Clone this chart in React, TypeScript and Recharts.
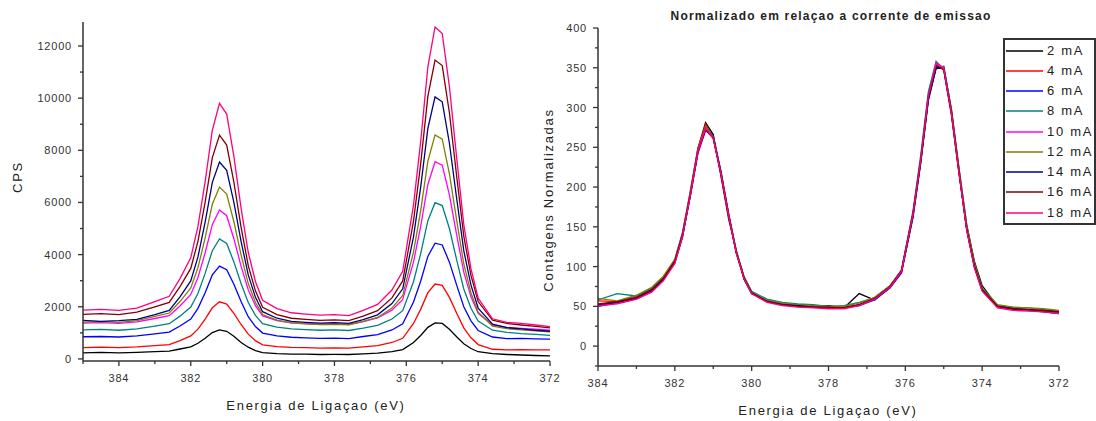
import { Customized, Legend, Line, LineChart, XAxis, YAxis } from 'recharts';

// binding energy grid (eV)
const energy = [
  385.0, 384.5, 384.0, 383.5, 383.0, 382.6, 382.3, 382.0, 381.8, 381.6, 381.4, 381.2, 381.0, 380.8,
  380.6, 380.4, 380.2, 380.0, 379.6, 379.2, 378.8, 378.4, 378.0, 377.6, 377.2, 376.8, 376.4, 376.1,
  375.8, 375.6, 375.4, 375.2, 375.0, 374.8, 374.6, 374.4, 374.2, 374.0, 373.6, 373.2, 372.8, 372.4, 372.0
];
// the normalized panel starts at 384 eV
const energyNorm = energy.slice(2);

const currents = ['2 mA', '4 mA', '6 mA', '8 mA', '10 mA', '12 mA', '14 mA', '16 mA', '18 mA'];
const colors = ['#000000', '#ff0000', '#0000ff', '#008080', '#ff00ff', '#808000', '#000080', '#800000', '#ff0080'];

// CPS (left panel)
const cps2 = [230, 250, 230, 250, 280, 300, 380, 460, 600, 790, 1010, 1110, 1060, 870, 630, 450, 320, 240, 200, 185, 180, 170, 175, 170, 195, 220, 280, 355, 630, 900, 1210, 1380, 1360, 1140, 850, 580, 400, 275, 200, 170, 150, 130, 120];
const cps4 = [430, 450, 430, 460, 510, 550, 700, 880, 1140, 1530, 1960, 2190, 2100, 1750, 1320, 950, 700, 540, 470, 440, 430, 410, 420, 410, 460, 510, 630, 790, 1360, 1900, 2540, 2870, 2820, 2360, 1760, 1190, 810, 550, 370, 350, 355, 345, 345];
const cps6 = [850, 860, 840, 880, 960, 1030, 1260, 1530, 1940, 2540, 3220, 3560, 3420, 2860, 2200, 1620, 1240, 990, 880, 830, 810, 790, 800, 780, 860, 930, 1110, 1350, 2180, 2980, 3930, 4440, 4370, 3710, 2840, 2000, 1460, 1090, 840, 780, 790, 770, 760];
const cps8 = [1110, 1130, 1100, 1150, 1260, 1350, 1640, 1990, 2510, 3280, 4150, 4600, 4430, 3720, 2890, 2160, 1670, 1350, 1220, 1150, 1120, 1100, 1110, 1090, 1180, 1290, 1530, 1850, 2960, 4040, 5300, 5990, 5880, 5000, 3810, 2680, 1940, 1450, 1100, 1020, 970, 940, 900];
const cps10 = [1370, 1390, 1360, 1420, 1550, 1660, 2030, 2470, 3120, 4070, 5150, 5710, 5490, 4610, 3560, 2650, 2040, 1650, 1470, 1380, 1350, 1330, 1350, 1320, 1430, 1570, 1870, 2280, 3710, 5080, 6690, 7560, 7430, 6290, 4780, 3330, 2380, 1750, 1300, 1210, 1170, 1140, 1100];
const cps12 = [1410, 1430, 1400, 1470, 1630, 1760, 2200, 2720, 3500, 4640, 5930, 6590, 6320, 5260, 3990, 2890, 2160, 1700, 1490, 1380, 1340, 1320, 1330, 1310, 1440, 1590, 1950, 2430, 4100, 5690, 7580, 8590, 8430, 7100, 5330, 3640, 2530, 1790, 1260, 1160, 1110, 1080, 1040];
const cps14 = [1480, 1440, 1470, 1520, 1700, 1860, 2380, 2990, 3910, 5250, 6770, 7550, 7230, 6000, 4510, 3220, 2360, 1810, 1560, 1440, 1400, 1370, 1390, 1360, 1510, 1690, 2120, 2690, 4680, 6590, 8840, 10050, 9860, 8270, 6170, 4150, 2830, 1950, 1330, 1200, 1150, 1100, 1060];
const cps16 = [1710, 1740, 1700, 1790, 2000, 2170, 2770, 3470, 4510, 6010, 7720, 8580, 8200, 6780, 5050, 3580, 2610, 1980, 1700, 1560, 1520, 1480, 1500, 1470, 1640, 1850, 2340, 2990, 5280, 7480, 10070, 11460, 11250, 9440, 7030, 4710, 3200, 2200, 1490, 1360, 1300, 1250, 1190];
const cps18 = [1870, 1900, 1860, 1950, 2200, 2400, 3080, 3880, 5080, 6800, 8770, 9800, 9390, 7770, 5780, 4090, 2970, 2250, 1930, 1770, 1720, 1680, 1700, 1660, 1860, 2090, 2640, 3360, 5900, 8330, 11200, 12730, 12480, 10440, 7740, 5150, 3460, 2330, 1540, 1400, 1360, 1300, 1240];

// normalized counts (right panel)
const norm2 = [50, 55, 61, 71, 84, 105, 137, 191, 248, 281, 266, 214, 160, 120, 84, 66, 58, 53, 52, 50, 51, 48, 66, 58, 74, 93, 162, 230, 309, 349, 350, 297, 222, 152, 106, 76, 50, 46, 45, 43, 41];
const norm4 = [57, 56, 63, 72, 86, 108, 142, 194, 249, 279, 262, 216, 164, 117, 86, 67, 56, 53, 50, 50, 49, 49, 52, 61, 75, 96, 168, 236, 316, 355, 347, 290, 216, 146, 99, 70, 49, 47, 45, 45, 44];
const norm6 = [51, 55, 61, 69, 84, 106, 139, 188, 243, 274, 264, 220, 166, 119, 87, 68, 57, 53, 51, 49, 48, 48, 51, 58, 73, 92, 164, 232, 311, 350, 352, 296, 220, 148, 101, 72, 51, 47, 46, 44, 42];
const norm8 = [58, 66, 63, 73, 86, 109, 143, 193, 247, 276, 263, 218, 165, 118, 87, 69, 59, 55, 53, 52, 50, 51, 55, 61, 76, 95, 170, 240, 320, 358, 348, 292, 218, 147, 101, 72, 51, 49, 48, 46, 44];
const norm10 = [50, 54, 59, 68, 83, 105, 138, 188, 242, 271, 262, 219, 167, 119, 87, 67, 56, 52, 50, 49, 48, 48, 52, 59, 74, 94, 166, 233, 313, 356, 350, 294, 219, 147, 100, 70, 49, 46, 45, 44, 42];
const norm12 = [60, 57, 64, 74, 88, 109, 141, 191, 246, 275, 263, 219, 166, 120, 88, 68, 58, 54, 52, 51, 50, 50, 54, 61, 76, 95, 167, 235, 314, 352, 351, 298, 223, 151, 104, 73, 52, 49, 48, 47, 45];
const norm14 = [52, 55, 60, 70, 84, 106, 139, 189, 244, 272, 262, 218, 165, 118, 86, 67, 56, 52, 51, 49, 48, 48, 52, 59, 74, 94, 165, 232, 312, 351, 349, 294, 218, 146, 100, 71, 50, 47, 46, 44, 43];
const norm16 = [53, 56, 61, 71, 85, 107, 140, 190, 245, 273, 262, 217, 164, 117, 85, 66, 56, 52, 50, 49, 49, 48, 52, 60, 75, 95, 167, 234, 314, 353, 348, 293, 217, 146, 99, 70, 50, 47, 46, 45, 43];
const norm18 = [51, 53, 59, 68, 82, 104, 138, 189, 245, 274, 261, 217, 164, 117, 85, 66, 55, 51, 49, 48, 47, 47, 51, 59, 74, 94, 166, 234, 315, 355, 349, 293, 217, 145, 98, 69, 48, 45, 44, 43, 41];

const xTicksLeft = [385, 384, 383, 382, 381, 380, 379, 378, 377, 376, 375, 374, 373, 372];
const xTicksRight = [384, 383, 382, 381, 380, 379, 378, 377, 376, 375, 374, 373, 372];
const yTicksLeft = [0, 1000, 2000, 3000, 4000, 5000, 6000, 7000, 8000, 9000, 10000, 11000, 12000];
const yTicksRight = [-25, 0, 25, 50, 75, 100, 125, 150, 175, 200, 225, 250, 275, 300, 325, 350, 375, 400];

const cpsSeries = [cps2, cps4, cps6, cps8, cps10, cps12, cps14, cps16, cps18];
const normSeries = [norm2, norm4, norm6, norm8, norm10, norm12, norm14, norm16, norm18];
const keys = currents.map((_, i) => `s${i}`);

function buildRows(xs: number[], series: number[][]) {
  return xs.map((e, i) => {
    const row: Record<string, number> = { e };
    series.forEach((s, j) => {
      row[keys[j]] = s[i];
    });
    return row;
  });
}

const leftRows = buildRows(energy, cpsSeries);
const rightRows = buildRows(energyNorm, normSeries);

const font = '"Liberation Sans", Arial, sans-serif';
const axisColor = '#333';
const tickText = { fontFamily: font, fontSize: 11, letterSpacing: 0.8, fill: '#333' };
const titleText = { fontFamily: font, fontSize: 13, letterSpacing: 1.7, fill: '#222' };

function makeXTick(isMajor: (v: number) => boolean) {
  return (props: any) => {
    const { x, y, payload } = props;
    const major = isMajor(payload.value);
    return (
      <g>
        <line x1={x} y1={y} x2={x} y2={y + (major ? 5 : 3)} stroke={axisColor} strokeWidth={1.3} />
        {major && (
          <text x={x} y={y + 17} textAnchor="middle" dominantBaseline="central" style={tickText}>
            {payload.value}
          </text>
        )}
      </g>
    );
  };
}

function makeYTick(isMajor: (v: number) => boolean) {
  return (props: any) => {
    const { x, y, payload } = props;
    const major = isMajor(payload.value);
    return (
      <g>
        <line x1={x - (major ? 5 : 3)} y1={y} x2={x} y2={y} stroke={axisColor} strokeWidth={1.3} />
        {major && (
          <text x={x - 11} y={y} textAnchor="end" dominantBaseline="central" style={tickText}>
            {payload.value}
          </text>
        )}
      </g>
    );
  };
}

const evenTick = (v: number) => v % 2 === 0;

function LegendBox() {
  return (
    <div
      style={{
        width: 93,
        boxSizing: 'border-box',
        border: '2px solid #333',
        background: '#fff',
        paddingTop: 0.5,
        fontFamily: font
      }}
    >
      {currents.map((c, i) => (
        <div key={c} style={{ height: 20.25, display: 'flex', alignItems: 'center', whiteSpace: 'nowrap' }}>
          <svg width={38} height={4} style={{ display: 'block', flex: 'none' }}>
            <line x1={1} y1={2} x2={38} y2={2} stroke={colors[i]} strokeWidth={1.6} />
          </svg>
          <span style={{ marginLeft: 4, fontSize: 13, letterSpacing: 1.7, color: '#222', lineHeight: '14px' }}>
            {c}
          </span>
        </div>
      ))}
    </div>
  );
}

export default function App() {
  return (
    <div style={{ position: 'absolute', left: 0, top: 0, width: 1096, height: 421, background: '#fff' }}>
      <div style={{ position: 'absolute', left: 0, top: 0 }}>
        <LineChart width={565} height={421} data={leftRows} margin={{ top: 22, right: 15, bottom: 0, left: 23 }}>
          <XAxis
            dataKey="e"
            type="number"
            domain={[372, 385]}
            reversed
            allowDataOverflow
            ticks={xTicksLeft}
            interval={0}
            height={60}
            tickSize={0}
            tickMargin={0}
            tickLine={false}
            tick={makeXTick(evenTick)}
            axisLine={{ stroke: axisColor, strokeWidth: 1.5 }}
            label={() => (
              <text x={316} y={405} textAnchor="middle" dominantBaseline="central" style={titleText}>
                Energia de Ligaçao (eV)
              </text>
            )}
          />
          <YAxis
            type="number"
            domain={[-80, 12920]}
            allowDataOverflow
            ticks={yTicksLeft}
            interval={0}
            width={60}
            tickSize={0}
            tickMargin={0}
            tickLine={false}
            tick={makeYTick((v) => v % 2000 === 0)}
            axisLine={{ stroke: axisColor, strokeWidth: 1.5 }}
            label={() => (
              <text
                x={17}
                y={177}
                transform="rotate(-90 17 177)"
                textAnchor="middle"
                dominantBaseline="central"
                style={titleText}
              >
                CPS
              </text>
            )}
          />
          {currents.map((c, i) => (
            <Line
              key={c}
              type="linear"
              dataKey={keys[i]}
              name={c}
              stroke={colors[i]}
              strokeWidth={1.3}
              dot={false}
              isAnimationActive={false}
            />
          ))}
        </LineChart>
      </div>
      <div style={{ position: 'absolute', left: 530, top: 0 }}>
        <LineChart width={566} height={421} data={rightRows} margin={{ top: 28, right: 37, bottom: 0, left: 8 }}>
          <XAxis
            dataKey="e"
            type="number"
            domain={[372, 384]}
            reversed
            allowDataOverflow
            ticks={xTicksRight}
            interval={0}
            height={55}
            tickSize={0}
            tickMargin={0}
            tickLine={false}
            tick={makeXTick(evenTick)}
            axisLine={{ stroke: axisColor, strokeWidth: 1.5 }}
            label={() => (
              <text x={298} y={410} textAnchor="middle" dominantBaseline="central" style={titleText}>
                Energia de Ligaçao (eV)
              </text>
            )}
          />
          <YAxis
            type="number"
            domain={[-25, 400]}
            allowDataOverflow
            ticks={yTicksRight}
            interval={0}
            width={60}
            tickSize={0}
            tickMargin={0}
            tickLine={false}
            tick={makeYTick((v) => v % 50 === 0)}
            axisLine={{ stroke: axisColor, strokeWidth: 1.5 }}
            label={() => (
              <text
                x={18}
                y={200}
                transform="rotate(-90 18 200)"
                textAnchor="middle"
                dominantBaseline="central"
                style={titleText}
              >
                Contagens Normalizadas
              </text>
            )}
          />
          <Customized
            component={() => (
              <text
                x={301}
                y={16}
                textAnchor="middle"
                dominantBaseline="central"
                style={{ fontFamily: font, fontSize: 12, fontWeight: 'bold', letterSpacing: 1.2, fill: '#222' }}
              >
                Normalizado em relaçao a corrente de emissao
              </text>
            )}
          />
          {currents.map((c, i) => (
            <Line
              key={c}
              type="linear"
              dataKey={keys[i]}
              name={c}
              stroke={colors[i]}
              strokeWidth={1.3}
              dot={false}
              isAnimationActive={false}
            />
          ))}
          <Legend
            layout="vertical"
            align="center"
            verticalAlign="middle"
            wrapperStyle={{ left: 473, top: 38, width: 93 }}
            content={() => <LegendBox />}
          />
        </LineChart>
      </div>
    </div>
  );
}
